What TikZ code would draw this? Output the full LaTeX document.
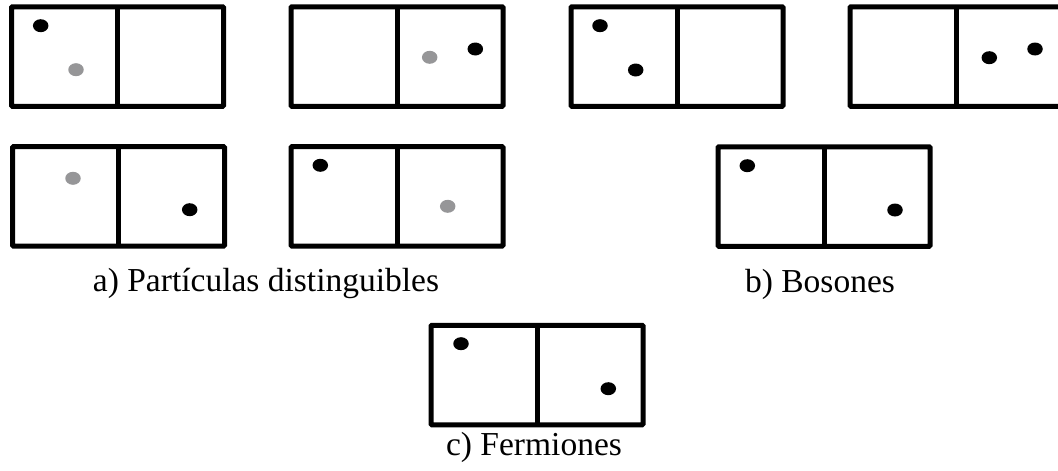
\documentclass[tikz,border=0pt]{standalone}
\usepackage{fontspec}
\setmainfont{Liberation Serif}
\usetikzlibrary{shapes.geometric}
\definecolor{dotgray}{RGB}{150,150,152}
\tikzset{
  twobox/.style={draw, line width=5pt, minimum width=212pt, minimum height=99.5pt, inner sep=0pt, outer sep=0pt, rounded corners=1pt},
  divider/.style={line width=5pt},
  bdot/.style={ellipse, fill=black, minimum width=15.5pt, minimum height=13pt, inner sep=0pt},
  gdot/.style={bdot, fill=dotgray},
  caption/.style={anchor=base, inner sep=0pt, font=\fontsize{33.5}{40}\selectfont}
}
\begin{document}
\begin{tikzpicture}[x=1pt,y=-1pt]
\useasboundingbox (0,0) rectangle (1058,471);
% row 1
\node[twobox] (b1) at (117.5,56.5) {};
\node[twobox] (b2) at (397,56.5) {};
\node[twobox] (b3) at (677,56.5) {};
\node[twobox] (b4) at (956,56.5) {};
% row 2
\node[twobox] (b5) at (118.5,196.3) {};
\node[twobox] (b6) at (397,196.3) {};
\node[twobox] (b7) at (824,196.5) {};
% row 3
\node[twobox] (b8) at (537,375) {};
\foreach \b in {b1,b2,b3,b4,b5,b6,b7,b8}{
  \draw[divider] (\b.north) -- (\b.south);
}
% dots
\node[bdot] (d1a) at (40.7,25.7) {};
\node[gdot] (d1b) at (76,69.7) {};
\node[gdot] (d2a) at (429.7,57.3) {};
\node[bdot] (d2b) at (475.3,49) {};
\node[bdot] (d3a) at (600,25.7) {};
\node[bdot] (d3b) at (635.7,70) {};
\node[bdot] (d4a) at (989.3,57.7) {};
\node[bdot] (d4b) at (1035,49) {};
\node[gdot] (d5a) at (73,178.3) {};
\node[bdot] (d5b) at (189.7,209.7) {};
\node[bdot] (d6a) at (320.3,165.3) {};
\node[gdot] (d6b) at (447.7,206.3) {};
\node[bdot] (d7a) at (747.3,165.7) {};
\node[bdot] (d7b) at (895,210) {};
\node[bdot] (d8a) at (461,343.7) {};
\node[bdot] (d8b) at (608.3,388.7) {};
% captions
\node[caption] (la) at (266,291) {a) Partículas distinguibles};
\node[caption] (lb) at (820,292) {b) Bosones};
\node[caption] (lc) at (534,455) {c) Fermiones};
\end{tikzpicture}
\end{document}
